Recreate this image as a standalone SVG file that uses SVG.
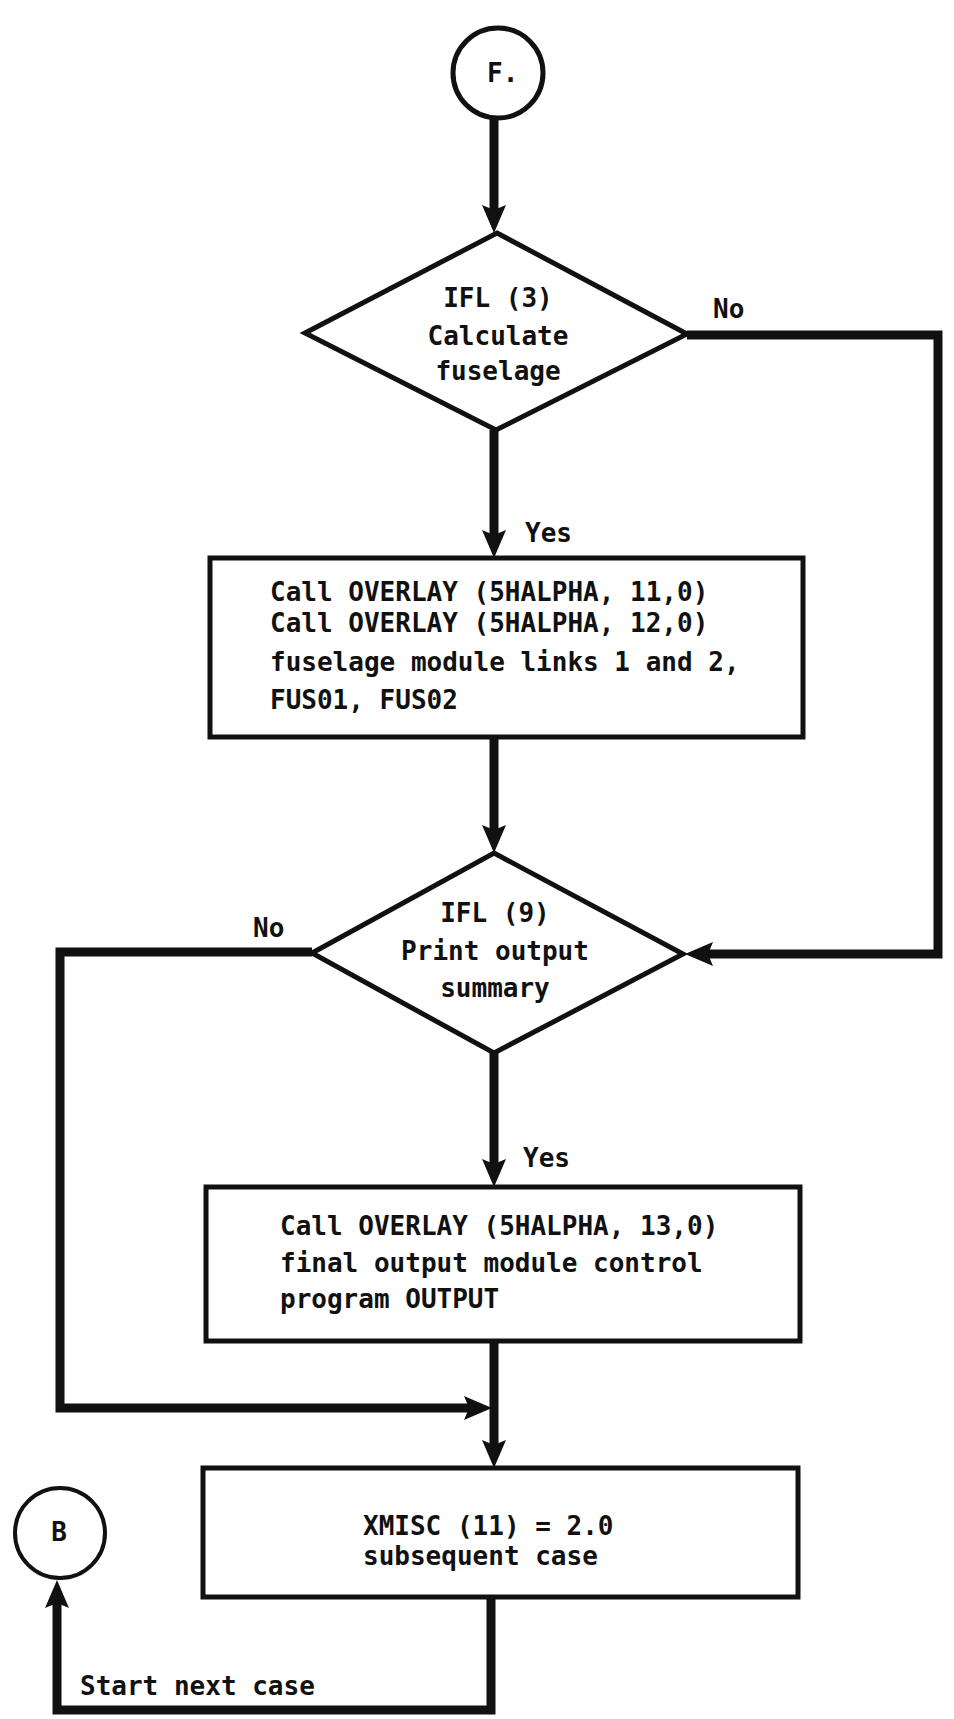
<svg xmlns="http://www.w3.org/2000/svg" width="954" height="1719" viewBox="0 0 954 1719">
<defs>
<style>
.t{font-family:"DejaVu Sans Mono","Liberation Mono",monospace;font-weight:bold;font-size:26px;fill:#111}
.c{text-anchor:middle}
.shape{fill:#fff;stroke:#111;stroke-width:5;stroke-linejoin:miter}
.conn{fill:none;stroke:#111;stroke-width:9;stroke-linejoin:miter;stroke-linecap:butt}
</style>
<marker id="ah" viewBox="0 0 28 24" markerWidth="28" markerHeight="24" refX="13" refY="12" orient="auto" markerUnits="userSpaceOnUse">
<path d="M0,0 L28,12 L0,24 L5,12 z" fill="#111"/>
</marker>
</defs>
<rect x="0" y="0" width="954" height="1719" fill="#fff"/>

<g id="connectors">
<path class="conn" d="M494,119 L494,218" marker-end="url(#ah)"/>
<path class="conn" d="M494,430 L494,543" marker-end="url(#ah)"/>
<path class="conn" d="M494,737 L494,838" marker-end="url(#ah)"/>
<path class="conn" d="M494,1053 L494,1172" marker-end="url(#ah)"/>
<path class="conn" d="M494,1341 L494,1453" marker-end="url(#ah)"/>
<path class="conn" d="M491,1597 L491,1710 L57,1710 L57,1595" marker-end="url(#ah)"/>
<path class="conn" d="M687,335 L938,335 L938,954 L700,954" marker-end="url(#ah)"/>
<path class="conn" d="M312,952 L60,952 L60,1408 L477,1408" marker-end="url(#ah)"/>
<text class="t" x="713" y="318">No</text>
<text class="t" x="525" y="542">Yes</text>
<text class="t" x="253" y="937">No</text>
<text class="t" x="523" y="1167">Yes</text>
<text class="t" x="80" y="1695">Start next case</text>
</g>

<g id="node-F">
<circle class="shape" cx="498" cy="73" r="45"/>
<text class="t" x="487" y="82" font-size="24">F.</text>
</g>

<g id="node-ifl3">
<polygon class="shape" points="497,233 687,334 496,430 305,333"/>
<text class="t c" x="498" y="307">IFL (3)</text>
<text class="t c" x="498" y="345">Calculate</text>
<text class="t c" x="498" y="380">fuselage</text>
</g>

<g id="node-fus">
<rect class="shape" x="210" y="558" width="593" height="179"/>
<text class="t" x="270" y="601">Call OVERLAY (5HALPHA, 11,0)</text>
<text class="t" x="270" y="632">Call OVERLAY (5HALPHA, 12,0)</text>
<text class="t" x="270" y="671">fuselage module links 1 and 2,</text>
<text class="t" x="270" y="709">FUS01, FUS02</text>
</g>

<g id="node-ifl9">
<polygon class="shape" points="494,853 683,954 494,1053 312,953"/>
<text class="t c" x="495" y="922">IFL (9)</text>
<text class="t c" x="495" y="960">Print output</text>
<text class="t c" x="495" y="997">summary</text>
</g>

<g id="node-output">
<rect class="shape" x="206" y="1187" width="594" height="154"/>
<text class="t" x="280" y="1235">Call OVERLAY (5HALPHA, 13,0)</text>
<text class="t" x="280" y="1272">final output module control</text>
<text class="t" x="280" y="1308">program OUTPUT</text>
</g>

<g id="node-xmisc">
<rect class="shape" x="203" y="1468" width="595" height="129"/>
<text class="t" x="363" y="1535">XMISC (11) = 2.0</text>
<text class="t" x="363" y="1565">subsequent case</text>
</g>

<g id="node-B">
<circle class="shape" cx="60" cy="1533" r="45" style="stroke-width:4"/>
<text class="t c" x="59" y="1541" font-size="20">B</text>
</g>
</svg>
